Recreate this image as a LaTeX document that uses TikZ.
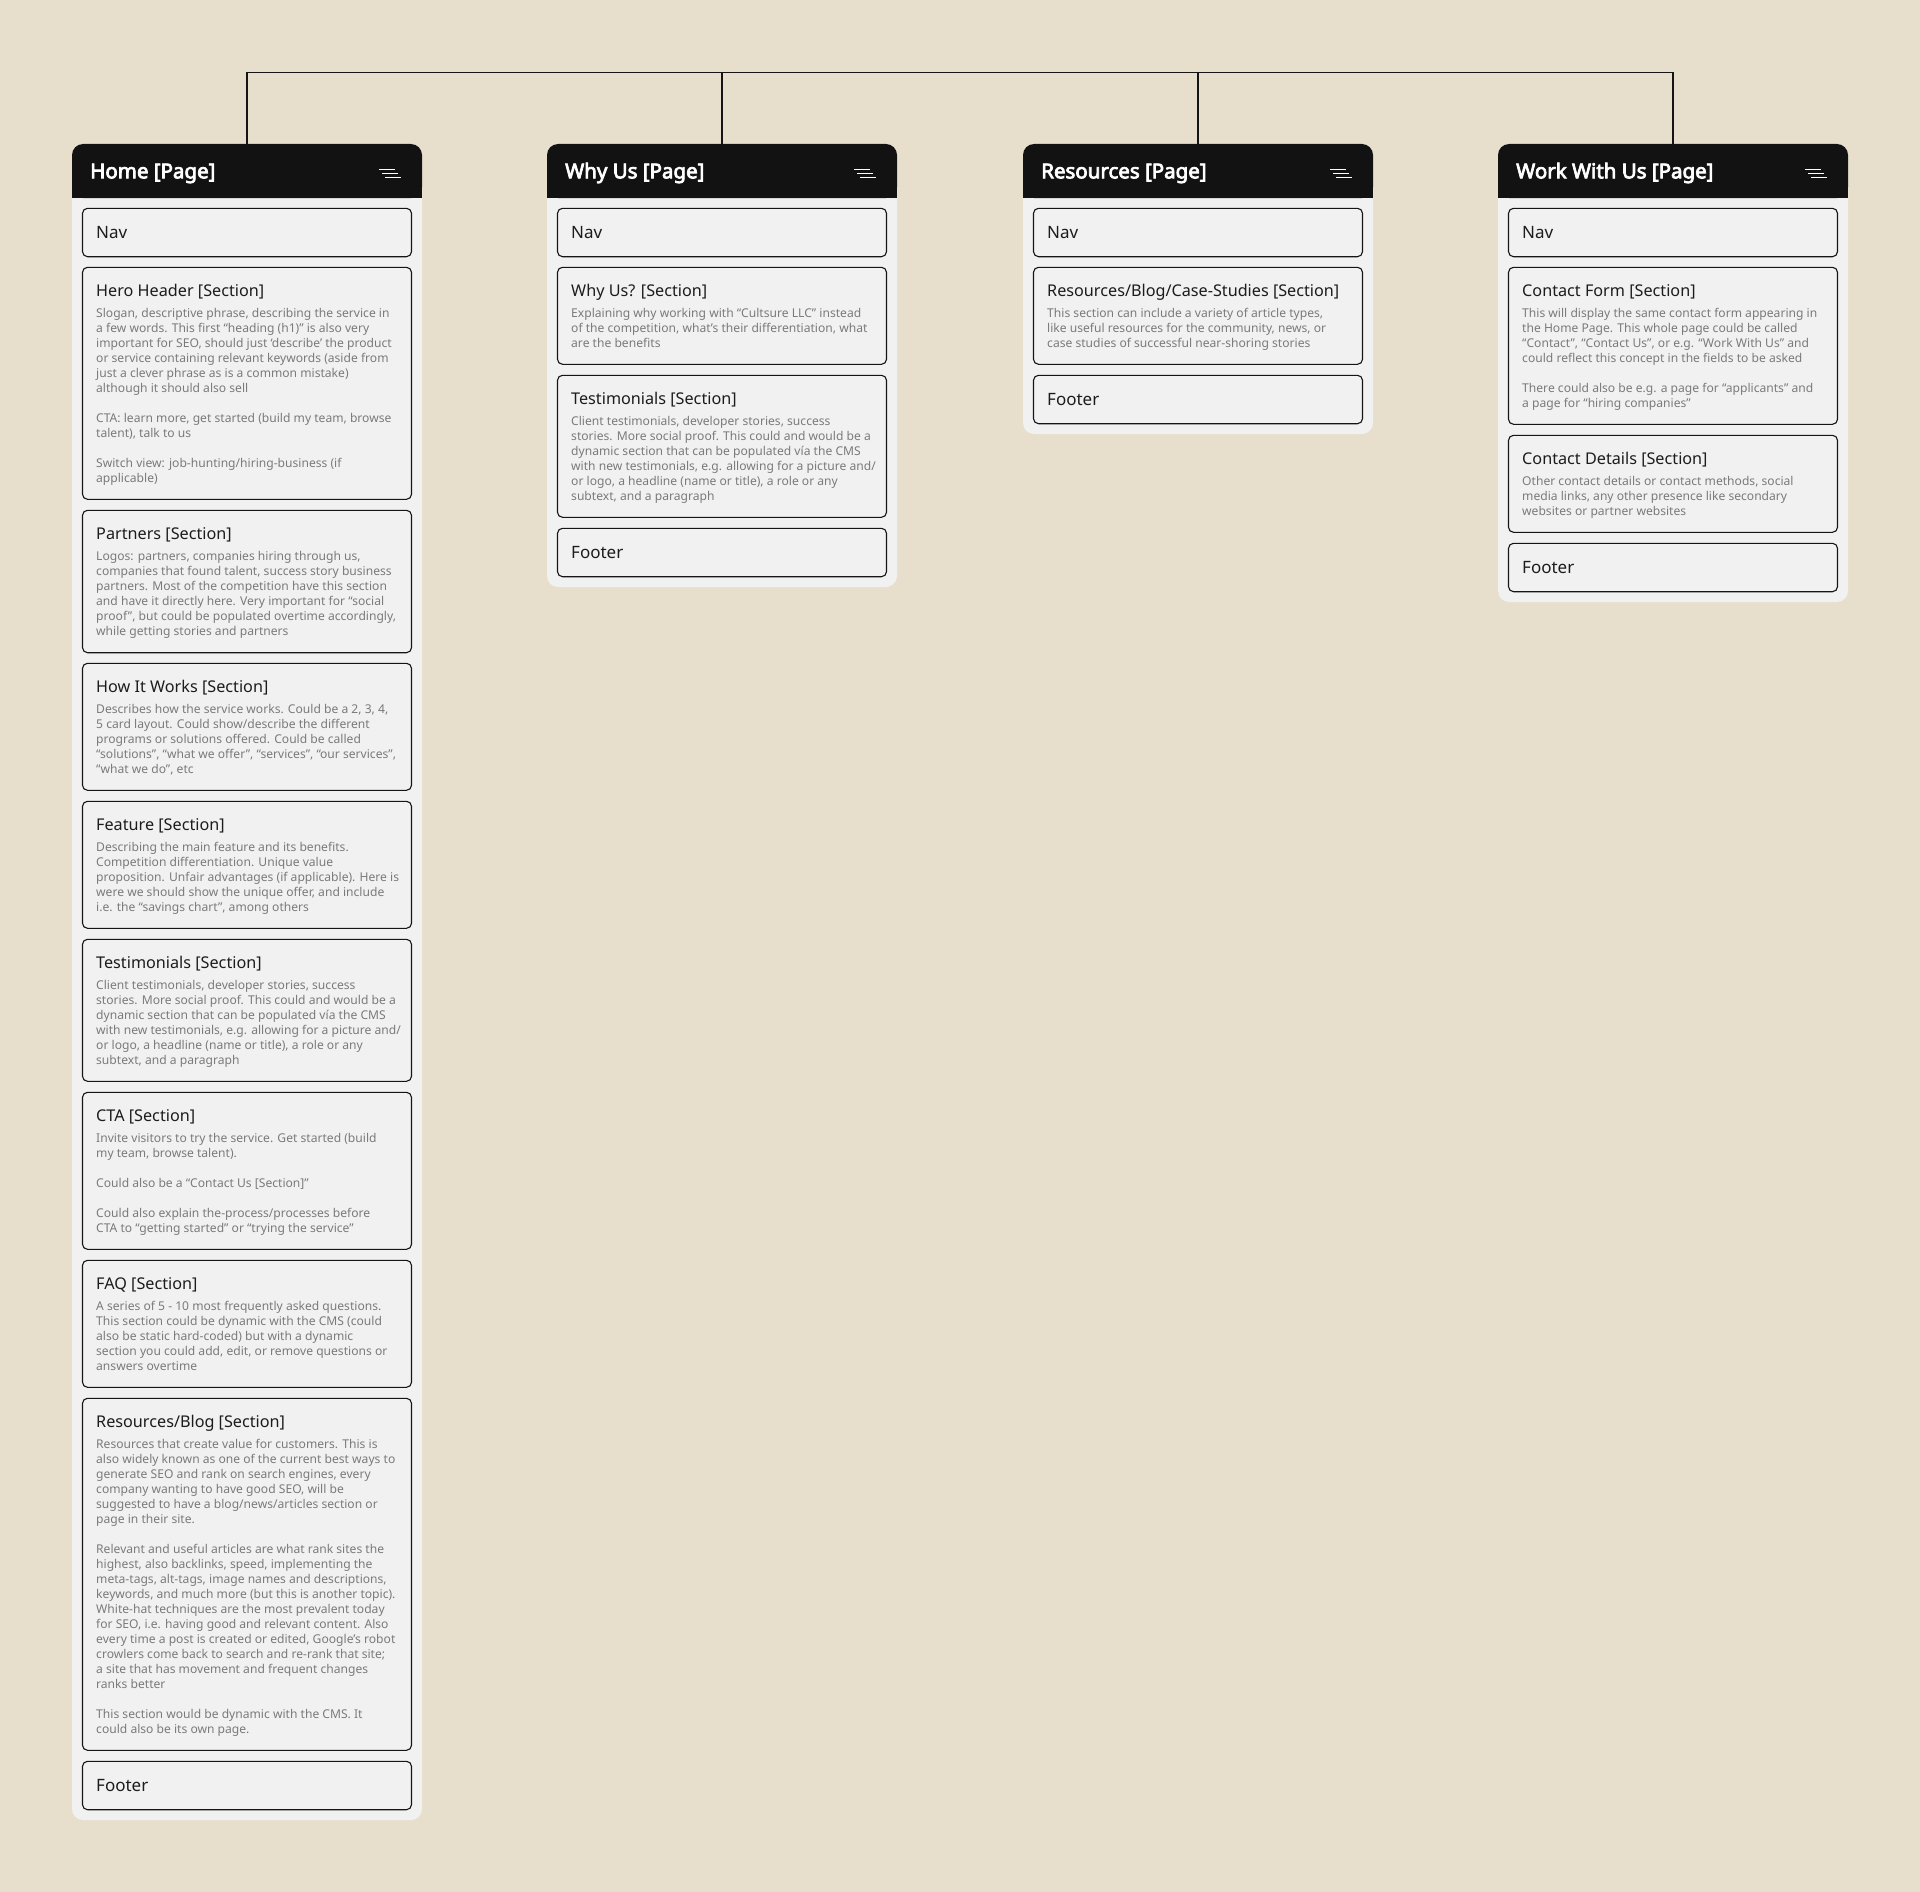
\documentclass[tikz,border=0pt]{standalone}
\usepackage{fontspec}
\setmainfont{Noto Sans}
\newfontfamily\headfont{Noto Sans}[FakeBold=3.6]
\definecolor{bgc}{HTML}{E7DFCC}
\definecolor{cardc}{HTML}{F1F1F1}
\definecolor{headc}{HTML}{121212}
\definecolor{linec}{HTML}{151515}
\definecolor{titlec}{HTML}{1C1C1C}
\definecolor{bodyc}{HTML}{7A7A7A}
\tikzset{
  cardbg/.style={rectangle, rounded corners=11pt, fill=cardc, draw=none, minimum width=350pt, inner sep=0pt, outer sep=0pt},
  headfill/.style={fill=headc},
  sbox/.style={rectangle, rounded corners=5pt, draw=linec, line width=1.1pt, fill=cardc, minimum width=329pt, inner sep=0pt, outer sep=0pt},
  headtitle/.style={text=white, font=\headfont\fontsize{20.5}{24}\selectfont, inner sep=0pt},
  stitle/.style={text=titlec, font=\fontsize{16.2}{19}\selectfont, inner sep=0pt},
  sbody/.style={text=bodyc, font=\fontsize{12.1}{15}\selectfont, inner sep=0pt},
  navtext/.style={text=titlec, font=\fontsize{17}{20}\selectfont, inner sep=0pt},
  conn/.style={draw=linec, line width=1.2pt},
  burger/.style={draw=white, line width=1pt}
}
% #1 name, #2 x0, #3 height, #4 title
\newcommand\pagecard[4]{%
  \node[cardbg, minimum height=#3pt, anchor=north west] (#1) at (#2,144) {};
  \fill[headfill, rounded corners=11pt] (#1.north west) rectangle ([yshift=-54pt]#1.north east);
  \fill[headfill] ([yshift=-27pt]#1.north west) rectangle ([yshift=-54pt]#1.north east);
  \node[headtitle, anchor=base west] (#1-title) at ([xshift=18pt, yshift=-34.3pt]#1.north west) {#4};
  \draw[burger] ([xshift=-43pt, yshift=-25.3pt]#1.north east) -- ++(16pt,0pt);
  \draw[burger] ([xshift=-40pt, yshift=-29.3pt]#1.north east) -- ++(16pt,0pt);
  \draw[burger] ([xshift=-37pt, yshift=-33.3pt]#1.north east) -- ++(16pt,0pt);
}
% #1 name, #2 x0 of card, #3 top, #4 text
\newcommand\plainbox[4]{%
  \node[sbox, minimum height=48.4pt, anchor=north west] (#1) at ({#2+10.5},#3) {};
  \node[navtext, anchor=base west] (#1-t) at ([xshift=13.5pt, yshift=-30pt]#1.north west) {#4};
}
% #1 name, #2 x0 of card, #3 top, #4 height, #5 title, #6 body
\newcommand\secbox[6]{%
  \node[sbox, minimum height=#4pt, anchor=north west] (#1) at ({#2+10.5},#3) {};
  \node[stitle, anchor=base west] (#1-t) at ([xshift=13.5pt, yshift=-29.4pt]#1.north west) {#5};
  \node[sbody, anchor=base west] (#1-b) at ([xshift=13.5pt, yshift=-50pt]#1.north west) {\parbox[t]{320pt}{\raggedright #6}};
}
\begin{document}
\begin{tikzpicture}[x=1pt, y=-1pt]
\fill[bgc] (0,0) rectangle (1920,1892);
\useasboundingbox (0,0) rectangle (1920,1892);

% ---------- cards ----------
\pagecard{home}{72}{1676}{Home [Page]}
\pagecard{why}{547}{443}{Why Us [Page]}
\pagecard{res}{1023}{290}{Resources [Page]}
\pagecard{work}{1498}{458}{Work With Us [Page]}

% ---------- connectors ----------
\coordinate (bus) at (960,72.3);
\draw[conn] (home.north) -- (home.north |- bus) -- (work.north |- bus) -- (work.north);
\draw[conn] (why.north) -- (why.north |- bus);
\draw[conn] (res.north) -- (res.north |- bus);

% ---------- Home ----------
\plainbox{hnav}{72}{208.3}{Nav}
\secbox{hhero}{72}{267.3}{232}{Hero Header [Section]}{%
Slogan, descriptive phrase, describing the service in\\
a few words. This first “heading (h1)” is also very\\
important for SEO, should just ‘describe’ the product\\
or service containing relevant keywords (aside from\\
just a clever phrase as is a common mistake)\\
although it should also sell\\[15pt]
CTA: learn more, get started (build my team, browse\\
talent), talk to us\\[15pt]
Switch view: job-hunting/hiring-business (if\\
applicable)}
\secbox{hpart}{72}{510.3}{142.4}{Partners [Section]}{%
Logos: partners, companies hiring through us,\\
companies that found talent, success story business\\
partners. Most of the competition have this section\\
and have it directly here. Very important for “social\\
proof”, but could be populated overtime accordingly,\\
while getting stories and partners}
\secbox{hhow}{72}{663.3}{127}{How It Works [Section]}{%
Describes how the service works. Could be a 2, 3, 4,\\
5 card layout. Could show/describe the different\\
programs or solutions offered. Could be called\\
“solutions”, “what we offer”, “services”, “our services”,\\
“what we do”, etc}
\secbox{hfeat}{72}{801.3}{127}{Feature [Section]}{%
Describing the main feature and its benefits.\\
Competition differentiation. Unique value\\
proposition. Unfair advantages (if applicable). Here is\\
were we should show the unique offer, and include\\
i.e. the “savings chart”, among others}
\secbox{htest}{72}{939.3}{142}{Testimonials [Section]}{%
Client testimonials, developer stories, success\\
stories. More social proof. This could and would be a\\
dynamic section that can be populated vía the CMS\\
with new testimonials, e.g. allowing for a picture and/\\
or logo, a headline (name or title), a role or any\\
subtext, and a paragraph}
\secbox{hcta}{72}{1092.3}{157}{CTA [Section]}{%
Invite visitors to try the service. Get started (build\\
my team, browse talent).\\[15pt]
Could also be a “Contact Us [Section]”\\[15pt]
Could also explain the-process/processes before\\
CTA to “getting started” or “trying the service”}
\secbox{hfaq}{72}{1260.3}{127}{FAQ [Section]}{%
A series of 5 - 10 most frequently asked questions.\\
This section could be dynamic with the CMS (could\\
also be static hard-coded) but with a dynamic\\
section you could add, edit, or remove questions or\\
answers overtime}
\secbox{hblog}{72}{1398.3}{352}{Resources/Blog [Section]}{%
Resources that create value for customers. This is\\
also widely known as one of the current best ways to\\
generate SEO and rank on search engines, every\\
company wanting to have good SEO, will be\\
suggested to have a blog/news/articles section or\\
page in their site.\\[15pt]
Relevant and useful articles are what rank sites the\\
highest, also backlinks, speed, implementing the\\
meta-tags, alt-tags, image names and descriptions,\\
keywords, and much more (but this is another topic).\\
White-hat techniques are the most prevalent today\\
for SEO, i.e. having good and relevant content. Also\\
every time a post is created or edited, Google’s robot\\
crowlers come back to search and re-rank that site;\\
a site that has movement and frequent changes\\
ranks better\\[15pt]
This section would be dynamic with the CMS. It\\
could also be its own page.}
\plainbox{hfoot}{72}{1761.3}{Footer}

% ---------- Why Us ----------
\plainbox{wnav}{547}{208.3}{Nav}
\secbox{wwhy}{547}{267.3}{97}{Why Us? [Section]}{%
Explaining why working with “Cultsure LLC” instead\\
of the competition, what’s their differentiation, what\\
are the benefits}
\secbox{wtest}{547}{375.3}{142}{Testimonials [Section]}{%
Client testimonials, developer stories, success\\
stories. More social proof. This could and would be a\\
dynamic section that can be populated vía the CMS\\
with new testimonials, e.g. allowing for a picture and/\\
or logo, a headline (name or title), a role or any\\
subtext, and a paragraph}
\plainbox{wfoot}{547}{528.3}{Footer}

% ---------- Resources ----------
\plainbox{rnav}{1023}{208.3}{Nav}
\secbox{rsec}{1023}{267.3}{97}{Resources/Blog/Case-Studies [Section]}{%
This section can include a variety of article types,\\
like useful resources for the community, news, or\\
case studies of successful near-shoring stories}
\plainbox{rfoot}{1023}{375.3}{Footer}

% ---------- Work With Us ----------
\plainbox{knav}{1498}{208.3}{Nav}
\secbox{kform}{1498}{267.3}{157}{Contact Form [Section]}{%
This will display the same contact form appearing in\\
the Home Page. This whole page could be called\\
“Contact”, “Contact Us”, or e.g. “Work With Us” and\\
could reflect this concept in the fields to be asked\\[15pt]
There could also be e.g. a page for “applicants” and\\
a page for “hiring companies”}
\secbox{kdet}{1498}{435.3}{97}{Contact Details [Section]}{%
Other contact details or contact methods, social\\
media links, any other presence like secondary\\
websites or partner websites}
\plainbox{kfoot}{1498}{543.3}{Footer}
\end{tikzpicture}
\end{document}
